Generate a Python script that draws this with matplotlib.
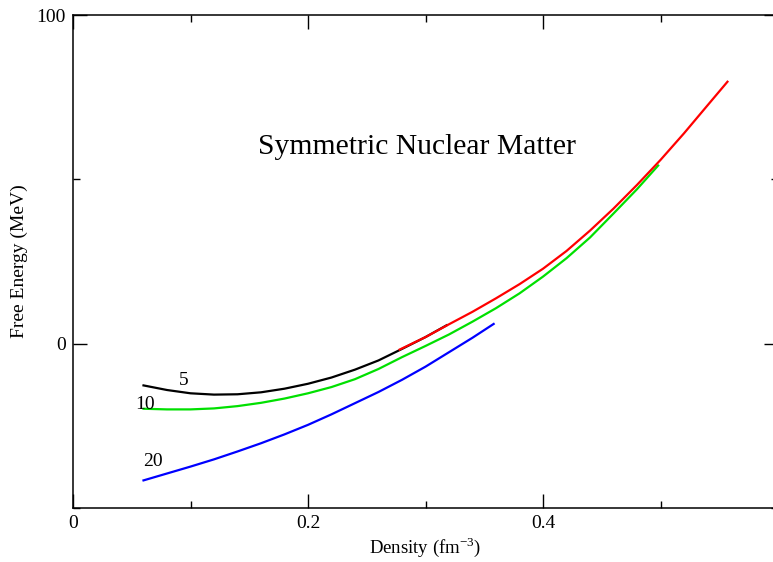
import matplotlib
matplotlib.use("Agg")
import matplotlib.pyplot as plt
from matplotlib.ticker import MultipleLocator

plt.rcParams['font.family'] = ['Liberation Serif', 'DejaVu Serif']

# T = 5 MeV (black)
x5 = [0.06, 0.08, 0.10, 0.12, 0.14, 0.16, 0.18, 0.20, 0.22, 0.24, 0.26, 0.28, 0.30, 0.318]
y5 = [-12.7, -14.1, -15.1, -15.5, -15.4, -14.8, -13.7, -12.2, -10.3, -7.9, -5.1, -1.6, 2.0, 5.6]

# T = 0 branch (red)
x0 = [0.278, 0.30, 0.32, 0.34, 0.36, 0.38, 0.40, 0.42, 0.44, 0.46, 0.48, 0.50, 0.52, 0.54, 0.557]
y0 = [-1.8, 2.0, 5.9, 9.7, 13.8, 18.1, 22.8, 28.2, 34.4, 41.1, 48.3, 55.9, 64.0, 72.5, 79.7]

# T = 10 MeV (green)
x10 = [0.06, 0.08, 0.10, 0.12, 0.14, 0.16, 0.18, 0.20, 0.22, 0.24, 0.26, 0.28, 0.30,
       0.32, 0.34, 0.36, 0.38, 0.40, 0.42, 0.44, 0.46, 0.48, 0.498]
y10 = [-19.8, -20.0, -20.0, -19.7, -19.0, -18.0, -16.7, -15.1, -13.2, -10.8, -7.7, -4.1, -0.7,
       2.8, 6.7, 10.8, 15.3, 20.4, 26.0, 32.3, 39.6, 47.0, 54.2]

# T = 20 MeV (blue)
x20 = [0.06, 0.08, 0.10, 0.12, 0.14, 0.16, 0.18, 0.20, 0.22, 0.24, 0.26, 0.28, 0.30, 0.32, 0.34, 0.358]
y20 = [-41.6, -39.5, -37.4, -35.2, -32.8, -30.3, -27.6, -24.7, -21.5, -18.1, -14.7, -11.0, -7.0, -2.6, 1.8, 6.0]

fig = plt.figure(figsize=(7.73, 5.62), dpi=100)
ax = fig.add_axes([73/773, 1 - 508/562, 705/773, 493/562])

lw = 1.6
ax.plot(x5, y5, color='black', lw=lw)
ax.plot(x10, y10, color='#00e000', lw=lw)
ax.plot(x0, y0, color='red', lw=lw)
ax.plot(x20, y20, color='blue', lw=lw)

ax.set_xlim(0, 0.6)
ax.set_ylim(-50, 100)
ax.xaxis.set_minor_locator(MultipleLocator(0.1))
ax.yaxis.set_minor_locator(MultipleLocator(50))
ax.set_xticks([0, 0.2, 0.4])
ax.set_xticklabels(['0', '0.2', '0.4'])
ax.set_yticks([0, 100])
ax.set_yticklabels(['0', '100'])

ax.tick_params(which='both', direction='in', top=True, right=True, width=1.0, labelsize=14)
ax.tick_params(which='major', length=10, pad=5)
ax.tick_params(which='minor', length=5)
for s in ax.spines.values():
    s.set_linewidth(1.1)

ax.set_xlabel('Density (fm$^{\\mathregular{-3}}$)', fontsize=13.5, labelpad=2)
ax.set_ylabel('Free Energy (MeV)', fontsize=14, labelpad=6)

ax.text(0.1575, 59.7, 'Symmetric Nuclear Matter', fontsize=21.3, ha='left', va='center')
ax.text(0.094, -11.2, '5', fontsize=14, ha='center', va='center')
ax.text(0.061, -18.4, '10', fontsize=14, ha='center', va='center')
ax.text(0.068, -35.7, '20', fontsize=14, ha='center', va='center')

fig.savefig('out.png', dpi=100)
